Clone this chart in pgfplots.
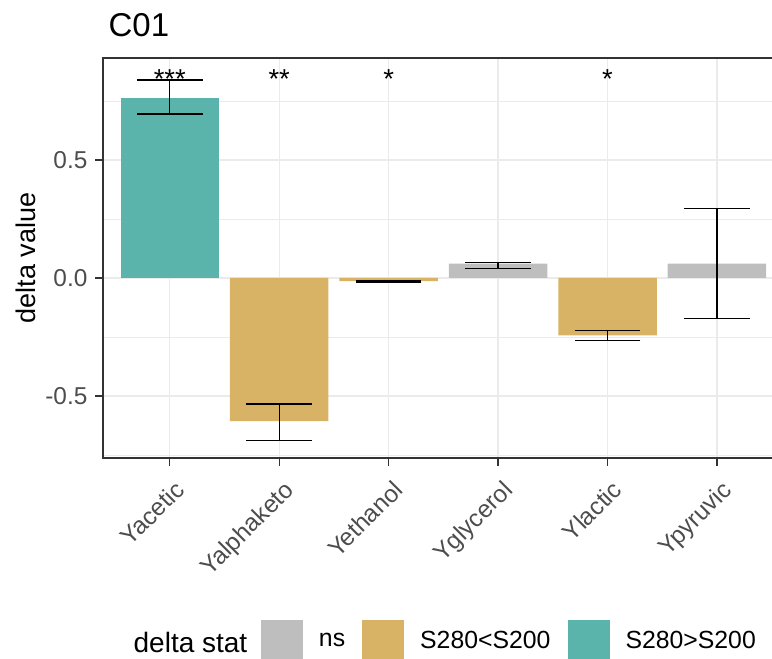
\documentclass[border=0pt]{standalone}
\usepackage{fontspec}
\setmainfont{Liberation Sans}
\usepackage{pgfplots}
\pgfplotsset{compat=1.18}
\definecolor{nsgrey}{HTML}{BEBEBE}
\definecolor{lowgold}{HTML}{D8B365}
\definecolor{highteal}{HTML}{5AB4AC}
\definecolor{gridc}{HTML}{EBEBEB}
\definecolor{framec}{HTML}{333333}
\definecolor{ticktext}{HTML}{4D4D4D}
\begin{document}
\begin{tikzpicture}
\path[use as bounding box] (0pt,0pt) rectangle (386pt,329.5pt);
\begin{axis}[
  at={(51.5pt,100.5pt)}, anchor=south west,
  scale only axis, width=336pt, height=200pt,
  xmin=-0.61, xmax=5.53, ymin=-0.763, ymax=0.932,
  xtick={0,1,2,3,4,5},
  xticklabels={Yacetic,Yalphaketo,Yethanol,Yglycerol,Ylactic,Ypyruvic},
  ytick={-0.5,0,0.5}, yticklabels={-0.5,0.0,0.5},
  minor ytick={-0.75,-0.25,0.25,0.75},
  grid=both,
  major grid style={gridc, line width=0.65pt},
  minor grid style={gridc, line width=0.35pt},
  axis line style={framec, line width=0.9pt},
  tick style={framec, line width=0.6pt},
  tick align=outside, major tick length=3.8pt, minor tick length=0pt,
  xtick pos=left, ytick pos=left,
  /pgf/number format/assume math mode=true,
  ticklabel style={font=\fontsize{12.2}{14}\selectfont, text=ticktext},
  yticklabel style={inner sep=0pt, xshift=-3.8pt},
  xticklabel style={anchor=north east, inner sep=0pt, xshift=1.7pt, yshift=-6.5pt, rotate=45},
  ylabel={delta value},
  every axis y label/.style={at={(axis description cs:0,0.5)}, xshift=-38.5pt, rotate=90, anchor=center, font=\fontsize{13.5}{16}\selectfont},
  legend columns=-1,
  legend style={at={(axis description cs:0.2351,-0.4575)}, anchor=west, draw=none, fill=none,
    inner sep=0pt, outer sep=0pt, font=\fontsize{12.4}{14}\selectfont,
    nodes={inner sep=0pt},
    /tikz/every odd column/.append style={column sep=8pt},
    /tikz/every even column/.append style={column sep=8.5pt}},
  legend image code/.code={\fill[#1] (0pt,-10.5pt) rectangle (21pt,10.5pt);},
]
% ns
\addplot[ybar, bar width=0.9, bar shift=0pt, fill=nsgrey, draw=none,
  error bars/.cd, y dir=both, y explicit,
  error bar style={draw=black, line width=0.7pt},
  error mark options={draw=black, rotate=90, mark size=16.4pt, line width=0.7pt}]
  coordinates {(3,0.061) += (0,0.005) -= (0,0.021) (5,0.061) += (0,0.233) -= (0,0.233)};
\addlegendentry{ns}
% S280<S200
\addplot[ybar, bar width=0.9, bar shift=0pt, fill=lowgold, draw=none,
  error bars/.cd, y dir=both, y explicit,
  error bar style={draw=black, line width=0.7pt},
  error mark options={draw=black, rotate=90, mark size=16.4pt, line width=0.7pt}]
  coordinates {(1,-0.607) += (0,0.072) -= (0,0.082) (2,-0.013) += (0,0.001) -= (0,0.005) (4,-0.243) += (0,0.021) -= (0,0.022)};
\addlegendentry{S280<S200}
% S280>S200
\addplot[ybar, bar width=0.9, bar shift=0pt, fill=highteal, draw=none,
  error bars/.cd, y dir=both, y explicit,
  error bar style={draw=black, line width=0.7pt},
  error mark options={draw=black, rotate=90, mark size=16.4pt, line width=0.7pt}]
  coordinates {(0,0.764) += (0,0.074) -= (0,0.070)};
\addlegendentry{S280>S200}
\node[anchor=base, font=\fontsize{13.7}{16}\selectfont] at (axis cs:0,0.802) {***};
\node[anchor=base, font=\fontsize{13.7}{16}\selectfont] at (axis cs:1,0.802) {**};
\node[anchor=base, font=\fontsize{13.7}{16}\selectfont] at (axis cs:2,0.802) {*};
\node[anchor=base, font=\fontsize{13.7}{16}\selectfont] at (axis cs:4,0.802) {*};
\end{axis}
\node[anchor=base west, font=\fontsize{16.5}{19}\selectfont] at (50.8pt,311.2pt) {C01};
\node[anchor=base west, font=\fontsize{14}{16}\selectfont] at (63.3pt,3pt) {delta stat};
\end{tikzpicture}
\end{document}
